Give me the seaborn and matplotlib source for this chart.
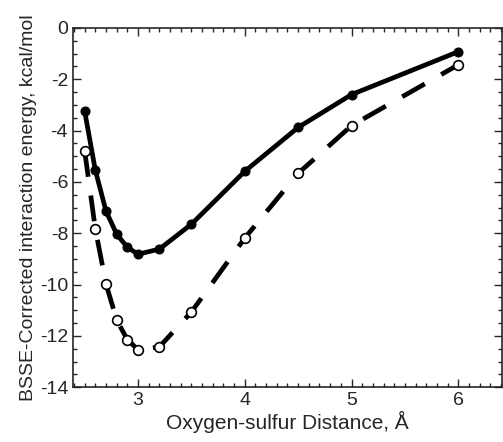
import numpy as np
import pandas as pd
import seaborn as sns
import matplotlib.pyplot as plt
from matplotlib.ticker import MultipleLocator

# O...S distances (Angstrom) and BSSE-corrected energies (kcal/mol)
distance = [2.5, 2.6, 2.7, 2.8, 2.9, 3.0, 3.2, 3.5, 4.0, 4.5, 5.0, 6.0]
energy_solid = [-3.25, -5.55, -7.14, -8.04, -8.55, -8.82, -8.62, -7.65, -5.59, -3.88, -2.6, -0.93]
energy_dashed = [-4.8, -7.84, -9.98, -11.38, -12.15, -12.54, -12.43, -11.07, -8.19, -5.67, -3.81, -1.44]

df = pd.DataFrame({
    "dist": distance,
    "solid": energy_solid,
    "dashed": energy_dashed,
})

sns.set_style("ticks")
plt.rcParams["font.family"] = ["Liberation Sans", "DejaVu Sans"]
plt.rcParams["axes.unicode_minus"] = False

fig = plt.figure(figsize=(5.03, 4.42), dpi=100)
ax = fig.add_axes([0.145, 0.124, 0.853, 0.813])

sns.lineplot(data=df, x="dist", y="solid", ax=ax, color="black", lw=3.4,
             marker="o", ms=6.5, mfc="black", mec="black")
sns.lineplot(data=df, x="dist", y="dashed", ax=ax, color="black", lw=3.4,
             linestyle=(0, (5.5, 4)), marker="o", ms=7, mfc="white",
             mec="black", mew=1.2)
# the little dot inside the open circles
sns.scatterplot(data=df, x="dist", y="dashed", ax=ax, color="black", s=2,
                linewidth=0)

ax.set_xlim(2.39, 6.41)
ax.set_ylim(-14, 0)
ax.xaxis.set_major_locator(MultipleLocator(1))
ax.xaxis.set_minor_locator(MultipleLocator(0.1))
ax.yaxis.set_major_locator(MultipleLocator(2))
ax.yaxis.set_minor_locator(MultipleLocator(0.5))
ax.tick_params(which="both", direction="in", top=True, right=True,
               width=1, labelsize=14)
ax.tick_params(which="major", length=6)
ax.tick_params(which="minor", length=3)
for s in ax.spines.values():
    s.set_linewidth(1.2)

ax.set_xlabel("Oxygen-sulfur Distance, Å", fontsize=15, labelpad=1)
ax.set_ylabel("BSSE-Corrected interaction energy, kcal/mol", fontsize=14,
              labelpad=2)

fig.savefig("out.png", dpi=100)
